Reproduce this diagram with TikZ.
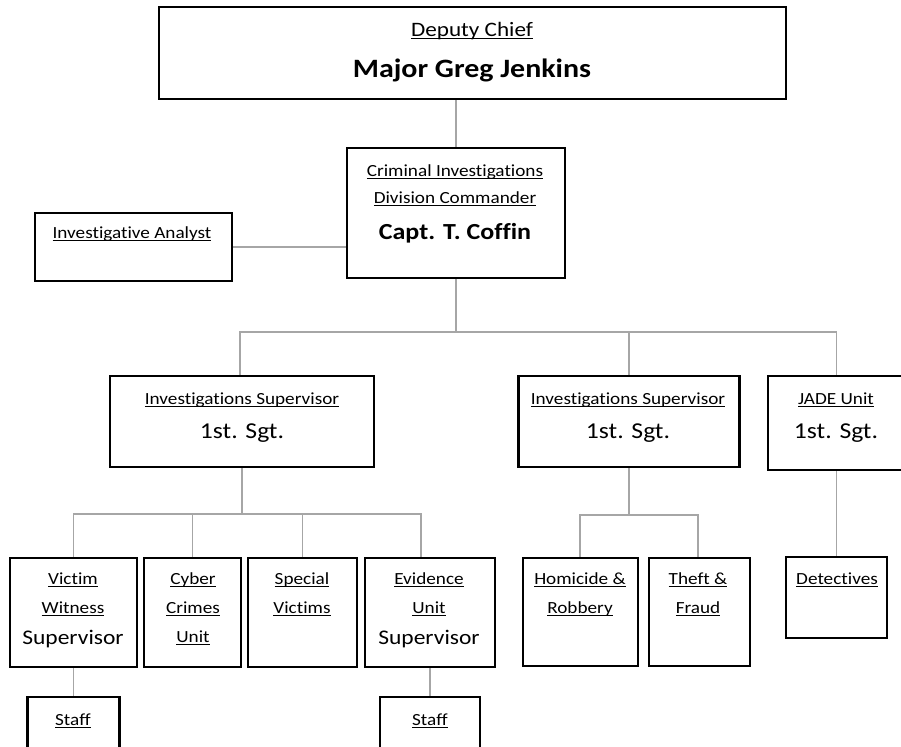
\documentclass[tikz,border=0pt]{standalone}
\usepackage{fontspec}
\setmainfont[FakeStretch=1.13,Ligatures=NoCommon]{Carlito}
\usepackage{tikz}

\definecolor{linkgray}{RGB}{166,166,166}
\newcommand{\ulab}[1]{\setbox0\hbox{#1}\rlap{\rule[-0.14em]{\wd0}{0.06em}}\box0}

\begin{document}
\begin{tikzpicture}[x=1pt,y=1pt,yscale=-1,xscale=1,
  box/.style={draw=black,line width=2.6pt,inner sep=0pt,outer sep=1.3pt},
  link/.style={draw=linkgray,line width=1.1pt},
  lab/.style={anchor=mid,inner sep=0.75pt,font=\fontsize{17}{20}\selectfont},
  deputy/.style={lab,font=\fontsize{20.5}{24}\selectfont},
  chief/.style={lab,font=\fontsize{26.5}{31}\bfseries\selectfont},
  capt/.style={lab,font=\fontsize{23}{27}\bfseries\selectfont},
  rank/.style={lab,font=\fontsize{22.7}{27}\selectfont},
  supv/.style={lab,font=\fontsize{20.8}{25}\selectfont}]
\useasboundingbox (0,0) rectangle (901,746);
\clip (0,0) rectangle (901,746);

%Boxes
\node [box,minimum width=627pt,minimum height=92pt] (deputychief) at (472.5,53) {};
\node [box,minimum width=218pt,minimum height=130pt] (cid) at (456,213) {};
\node [box,minimum width=197pt,minimum height=68pt] (analyst) at (133.5,247) {};
\node [box,minimum width=264pt,minimum height=91pt] (isA) at (242,421.5) {};
\node [box,minimum width=221pt,minimum height=91pt] (isB) at (629,421.5) {};
\node [box,minimum width=137pt,minimum height=94pt] (jade) at (836.5,423) {};
\node [box,minimum width=127pt,minimum height=109pt] (victim) at (73.5,612.5) {};
\node [box,minimum width=97pt,minimum height=109pt] (cyber) at (192.5,612.5) {};
\node [box,minimum width=109pt,minimum height=109pt] (special) at (302.5,612.5) {};
\node [box,minimum width=130pt,minimum height=109pt] (evidence) at (430,612.5) {};
\node [box,minimum width=115pt,minimum height=108pt] (homicide) at (580.5,612) {};
\node [box,minimum width=101pt,minimum height=108pt] (theft) at (699.5,612) {};
\node [box,minimum width=101pt,minimum height=81pt] (detectives) at (836.5,597.5) {};
\node [box,minimum width=92pt,minimum height=66pt] (staffA) at (73.5,730) {};
\node [box,minimum width=100pt,minimum height=66pt] (staffB) at (430,730) {};

%Bus points
\coordinate (busTop) at (456,332);
\coordinate (busA) at (242,514);
\coordinate (busB) at (629,515);

%Straight Lines
\draw [link] (deputychief.south -| cid.north) -- (cid.north);
\draw [link] (analyst.east) -- (analyst.east -| cid.west);
\draw [link] (cid.south) -- (busTop);
\draw [link] ([xshift=-2pt]isA.north) |- (busTop) -| (jade.north);
\draw [link] (isB.north) -- (isB.north |- busTop);
\draw [link] (isA.south) -- (busA);
\draw [link] (victim.north) |- (busA) -| ([xshift=-9pt]evidence.north);
\draw [link] (cyber.north) -- (cyber.north |- busA);
\draw [link] (special.north) -- (special.north |- busA);
\draw [link] (isB.south) -- (busB);
\draw [link] ([xshift=-0.5pt]homicide.north) |- (busB) -| ([xshift=-1.5pt]theft.north);
\draw [link] (jade.south) -- (detectives.north);
\draw [link] (victim.south) -- (staffA.north);
\draw [link] (evidence.south) -- (staffB.north);

% Text Node
\node [deputy] (tDeputy) at (472,34) {\ulab{Deputy Chief}};
\node [chief] (tChief) at (472,75) {Major Greg Jenkins};
\node [lab] (tCid1) at (455,174) {\ulab{Criminal Investigations}};
\node [lab] (tCid2) at (455,201) {\ulab{Division Commander}};
\node [capt] (tCapt) at (455,237) {Capt. T. Coffin};
\node [lab] (tAnalyst) at (132,236) {\ulab{Investigative Analyst}};
\node [lab] (tIsA) at (242,402) {\ulab{Investigations Supervisor}};
\node [rank] (tIsAr) at (242,436) {1st. Sgt.};
\node [lab] (tIsB) at (628,402) {\ulab{Investigations Supervisor}};
\node [rank] (tIsBr) at (628,436) {1st. Sgt.};
\node [lab] (tJade) at (836,402) {\ulab{JADE Unit}};
\node [rank] (tJader) at (836,436) {1st. Sgt.};
\node [lab] (tVic1) at (73,582) {\ulab{Victim}};
\node [lab] (tVic2) at (73,611) {\ulab{Witness}};
\node [supv] (tVic3) at (73,642) {Supervisor};
\node [lab] (tCyb1) at (193,582) {\ulab{Cyber}};
\node [lab] (tCyb2) at (193,611) {\ulab{Crimes}};
\node [lab] (tCyb3) at (193,640) {\ulab{Unit}};
\node [lab] (tSpe1) at (302,582) {\ulab{Special}};
\node [lab] (tSpe2) at (302,611) {\ulab{Victims}};
\node [lab] (tEvi1) at (429,582) {\ulab{Evidence}};
\node [lab] (tEvi2) at (429,611) {\ulab{Unit}};
\node [supv] (tEvi3) at (429,642) {Supervisor};
\node [lab] (tHom1) at (580,582) {\ulab{Homicide \&}};
\node [lab] (tHom2) at (580,611) {\ulab{Robbery}};
\node [lab] (tThe1) at (698,582) {\ulab{Theft \&}};
\node [lab] (tThe2) at (698,611) {\ulab{Fraud}};
\node [lab] (tDet) at (837,582) {\ulab{Detectives}};
\node [lab] (tStaffA) at (73,723) {\ulab{Staff}};
\node [lab] (tStaffB) at (430,723) {\ulab{Staff}};

\end{tikzpicture}
\end{document}
